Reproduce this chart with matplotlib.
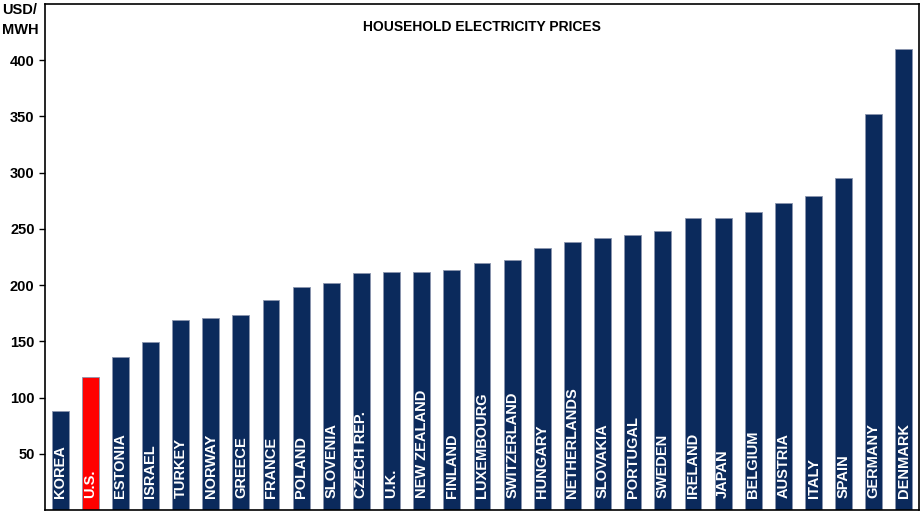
import matplotlib.pyplot as plt

plt.rcParams['font.family'] = ['Liberation Sans', 'DejaVu Sans']

# === data ===
countries = ["KOREA", "U.S.", "ESTONIA", "ISRAEL", "TURKEY", "NORWAY", "GREECE", "FRANCE",
             "POLAND", "SLOVENIA", "CZECH REP.", "U.K.", "NEW ZEALAND", "FINLAND",
             "LUXEMBOURG", "SWITZERLAND", "HUNGARY", "NETHERLANDS", "SLOVAKIA", "PORTUGAL",
             "SWEDEN", "IRELAND", "JAPAN", "BELGIUM", "AUSTRIA", "ITALY", "SPAIN",
             "GERMANY", "DENMARK"]
prices = [88, 118, 136, 149, 169, 171, 173, 187, 198, 202, 211, 212, 212, 213,
          220, 222, 233, 238, 242, 245, 248, 260, 260, 265, 273, 279, 295, 352, 410]
yticks = [50, 100, 150, 200, 250, 300, 350, 400]

navy = '#0b2a5c'
colors = ['#ff0000' if c == "U.S." else navy for c in countries]

fig = plt.figure(figsize=(9.22, 5.16), dpi=100)
ax = fig.add_axes([45 / 922, 6 / 516, 874 / 922, 506 / 516])

x = range(len(countries))
ax.bar(x, prices, width=0.56, color=colors, edgecolor='#8a95ad', linewidth=0.6)

# labels inside bars
for i, name in enumerate(countries):
    ax.text(i, 11, name, rotation=90, ha='center', va='bottom', color='white',
            fontsize=10.5, fontweight='bold')

ax.set_xlim(-0.5, 28.5)
ax.set_ylim(0, 450)
ax.set_xticks([])
ax.set_yticks(yticks)
ax.tick_params(axis='y', direction='out', length=4, width=1, labelsize=10.5)
for lbl in ax.get_yticklabels():
    lbl.set_fontweight('bold')
for sp in ax.spines.values():
    sp.set_linewidth(1.2)

ax.text(0.5, 0.955, "HOUSEHOLD ELECTRICITY PRICES", transform=ax.transAxes,
        ha='center', va='center', fontsize=10, fontweight='bold')
fig.text(2 / 922, 1 - 3 / 516, "USD/\nMWH", ha='left', va='top', fontsize=10.5,
         fontweight='bold', linespacing=1.5)

plt.savefig("out.png", dpi=100)
